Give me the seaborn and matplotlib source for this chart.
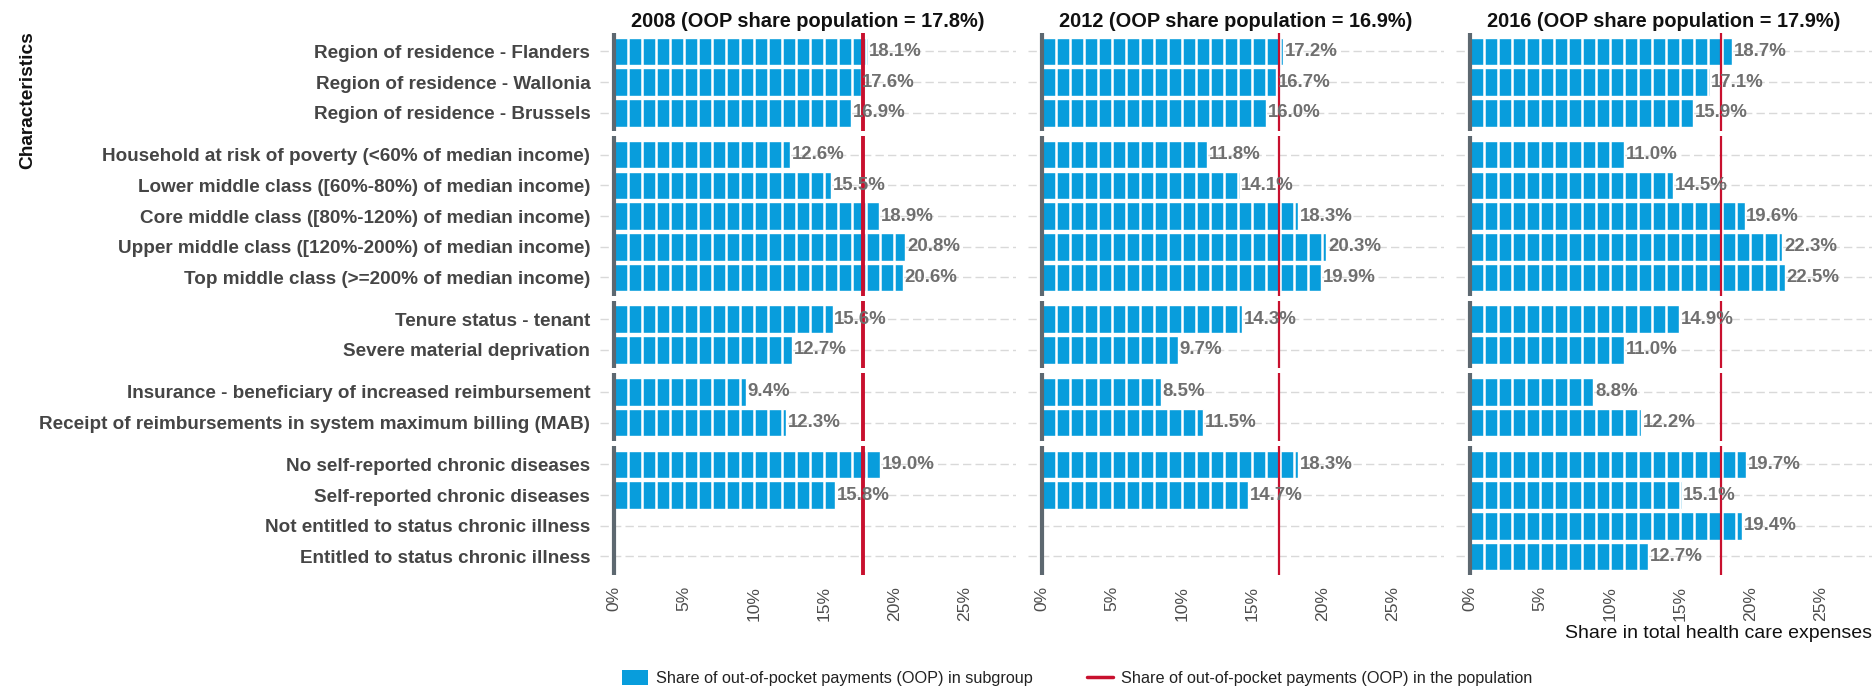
import numpy as np
import pandas as pd
import matplotlib
matplotlib.use("Agg")
import matplotlib.pyplot as plt
from matplotlib.patches import Patch
from matplotlib.lines import Line2D
import seaborn as sns

groups = [
    ["Region of residence - Flanders",
     "Region of residence - Wallonia",
     "Region of residence - Brussels"],
    ["Household at risk of poverty (<60% of median income)",
     "Lower middle class ([60%-80%) of median income)",
     "Core middle class ([80%-120%) of median income)",
     "Upper middle class ([120%-200%) of median income)",
     "Top middle class (>=200% of median income)"],
    ["Tenure status - tenant",
     "Severe material deprivation"],
    ["Insurance - beneficiary of increased reimbursement",
     "Receipt of reimbursements in system maximum billing (MAB)"],
    ["No self-reported chronic diseases",
     "Self-reported chronic diseases",
     "Not entitled to status chronic illness",
     "Entitled to status chronic illness"],
]
years = ["2008", "2012", "2016"]
population = [17.8, 16.9, 17.9]
oop_2008 = [18.1, 17.6, 16.9, 12.6, 15.5, 18.9, 20.8, 20.6, 15.6, 12.7, 9.4, 12.3, 19.0, 15.8, np.nan, np.nan]
oop_2012 = [17.2, 16.7, 16.0, 11.8, 14.1, 18.3, 20.3, 19.9, 14.3, 9.7, 8.5, 11.5, 18.3, 14.7, np.nan, np.nan]
oop_2016 = [18.7, 17.1, 15.9, 11.0, 14.5, 19.6, 22.3, 22.5, 14.9, 11.0, 8.8, 12.2, 19.7, 15.1, 19.4, 12.7]
x_ticks = [0, 5, 10, 15, 20, 25]

labels = [c for g in groups for c in g]
group_id = [i for i, g in enumerate(groups) for _ in g]
df = pd.DataFrame({
    "label": labels * 3,
    "group": group_id * 3,
    "year": np.repeat(years, len(labels)),
    "value": oop_2008 + oop_2012 + oop_2016,
})

sns.set_style("white")
plt.rcParams["font.family"] = ["Liberation Sans", "DejaVu Sans"]

BLUE = "#089ddc"
RED = "#c8102e"
AXGREY = "#5d6870"
W, H = 1874, 686
fig = plt.figure(figsize=(W / 100, H / 100), dpi=100)

col_x0 = [600, 1028, 1456]
panel_w = 416
pitch, gap, top = 30.7, 5, 33

y_cur = top
for gi, cats in enumerate(groups):
    n = len(cats)
    h = (n + 0.2) * pitch
    for ci, year in enumerate(years):
        ax = fig.add_axes([col_x0[ci] / W, 1 - (y_cur + h) / H, panel_w / W, h / H])
        sub = df[(df.group == gi) & (df.year == year)]
        sns.barplot(data=sub, x="value", y="label", order=cats, orient="y",
                    color=BLUE, width=0.9, errorbar=None, saturation=1, ax=ax)
        vals = sub.set_index("label").loc[cats, "value"].values
        # white separators every 1%
        for i, v in enumerate(vals):
            if np.isnan(v):
                continue
            ks = np.arange(1, np.ceil(v))
            ax.vlines(ks, i - 0.45, i + 0.45, color="white", lw=1.8, zorder=3)
            ax.text(v + 0.12, i, f"{v:.1f}%", va="center", ha="left",
                    fontsize=13.4, fontweight="bold", color="#6f6f6f", zorder=5)
        ax.axvline(0, color=AXGREY, lw=3, zorder=4)
        ax.axvline(population[ci], color=RED, lw=2.8 if ci == 0 else 1.6, zorder=4)
        ax.set_xlim(-1.0, 28.7)
        ax.set_ylim(n - 0.4, -0.6)
        ax.grid(axis="y", color="#d9d9d9", lw=1, linestyle=(0, (6, 3)))
        ax.grid(axis="x", visible=False)
        ax.set_axisbelow(True)
        for s in ax.spines.values():
            s.set_visible(False)
        ax.set_xlabel("")
        ax.set_ylabel("")
        ax.set_xticks(x_ticks)
        if gi == len(groups) - 1:
            ax.set_xticklabels([f"{t}%" for t in x_ticks], rotation=90,
                               fontsize=12.6, color="#4d4d4d")
            ax.tick_params(axis="x", length=7, width=2.5, color="#4d4d4d", pad=1)
        else:
            ax.tick_params(axis="x", length=0, labelbottom=False)
        if ci == 0:
            ax.tick_params(axis="y", length=5, width=1, color="#bbbbbb", pad=2)
            for t in ax.get_yticklabels():
                t.set_fontsize(13.6)
                t.set_fontweight("bold")
                t.set_color("#454545")
        else:
            ax.tick_params(axis="y", length=0, labelleft=False)
        if gi == 0:
            ax.set_title(f"{year} (OOP share population = {population[ci]}%)",
                         fontsize=14.4, fontweight="bold", color="#111111", pad=4)
    y_cur += h + gap

fig.text(28 / W, 1 - 100 / H, "Characteristics", rotation=90, ha="center",
         va="center", fontsize=13.8, fontweight="bold", color="#111111")
fig.text(1872 / W, 1 - 634 / H, "Share in total health care expenses",
         ha="right", va="center", fontsize=14, color="#111111")

handles = [Patch(facecolor=BLUE, edgecolor="none"),
           Line2D([0], [0], color=RED, lw=2.5)]
fig.legend(handles,
           ["Share of out-of-pocket payments (OOP) in subgroup",
            "Share of out-of-pocket payments (OOP) in the population"],
           loc="center left", bbox_to_anchor=(622 / W, 8 / H), ncol=2,
           frameon=False, fontsize=11.7, handlelength=1.6, handleheight=1.0,
           handletextpad=0.5, columnspacing=3.3, borderaxespad=0, borderpad=0,
           labelcolor="#222222")

fig.savefig("out.png", dpi=100)
